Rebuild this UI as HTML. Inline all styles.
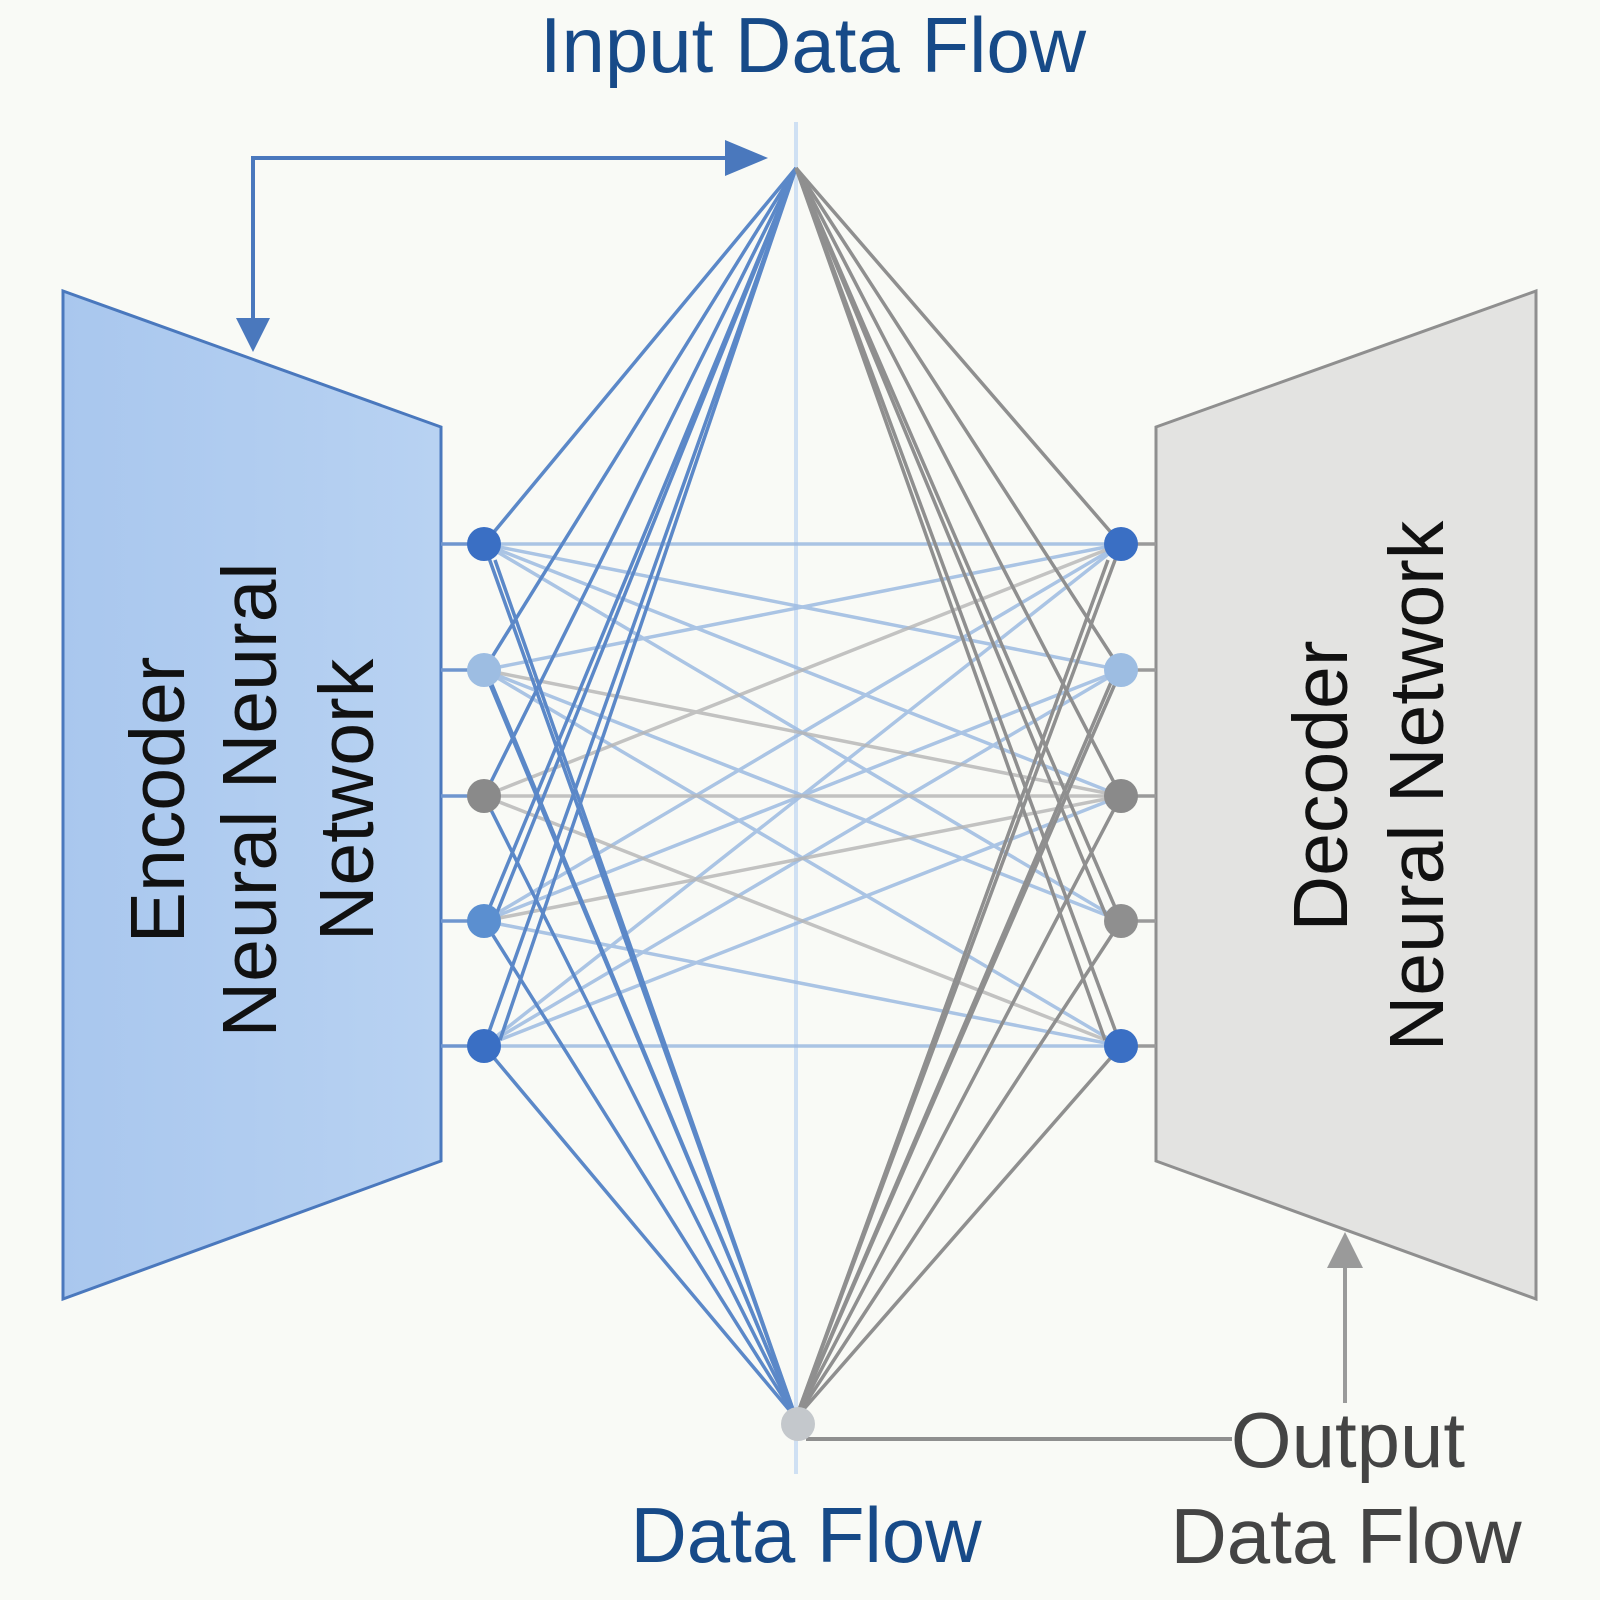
<!DOCTYPE html>
<html><head><meta charset="utf-8"><style>
html,body{margin:0;padding:0;background:#f9faf6;}
svg{display:block}
</style></head><body>
<svg width="1600" height="1600" viewBox="0 0 1600 1600" xmlns="http://www.w3.org/2000/svg" font-family="Liberation Sans, Arial, sans-serif">
<rect width="1600" height="1600" fill="#f9faf6"/>
<defs>
<linearGradient id="enc" x1="0" y1="0" x2="1" y2="0"><stop offset="0" stop-color="#a9c7ee"/><stop offset="1" stop-color="#b8d2f2"/></linearGradient>
</defs>
<polygon points="63,291 441,427 441,1161 63,1299" fill="url(#enc)" stroke="#4a78bd" stroke-width="3"/>
<polygon points="1156,427 1536,291 1536,1299 1156,1161" fill="#e3e3e1" stroke="#8f8f8f" stroke-width="3"/>
<line x1="796" y1="122" x2="796" y2="1474" stroke="#cfe0f3" stroke-width="4"/>
<g stroke-width="3.5" fill="none">
<g stroke="#6f96cf"><line x1="441" y1="544" x2="484" y2="544"/><line x1="441" y1="670" x2="484" y2="670"/><line x1="441" y1="796" x2="484" y2="796"/><line x1="441" y1="921" x2="484" y2="921"/><line x1="441" y1="1046" x2="484" y2="1046"/></g>
<g stroke="#9a9a9a"><line x1="1121" y1="544" x2="1156" y2="544"/><line x1="1121" y1="670" x2="1156" y2="670"/><line x1="1121" y1="796" x2="1156" y2="796"/><line x1="1121" y1="921" x2="1156" y2="921"/><line x1="1121" y1="1046" x2="1156" y2="1046"/></g>
<g stroke="#9dbbe2" opacity="0.85">
<line x1="484" y1="544" x2="1121" y2="544"/><line x1="484" y1="544" x2="1121" y2="796"/><line x1="484" y1="544" x2="1121" y2="921"/><line x1="484" y1="544" x2="1121" y2="670"/>
<line x1="484" y1="670" x2="1121" y2="921"/><line x1="484" y1="670" x2="1121" y2="1046"/><line x1="484" y1="670" x2="1121" y2="544"/>
<line x1="484" y1="921" x2="1121" y2="544"/><line x1="484" y1="921" x2="1121" y2="670"/><line x1="484" y1="921" x2="1121" y2="1046"/>
<line x1="484" y1="1046" x2="1121" y2="1046"/><line x1="484" y1="1046" x2="1121" y2="544"/><line x1="484" y1="1046" x2="1121" y2="670"/><line x1="484" y1="1046" x2="1121" y2="796"/>
</g>
<g stroke="#b5b5b5" opacity="0.8">
<line x1="484" y1="796" x2="1121" y2="796"/><line x1="484" y1="796" x2="1121" y2="544"/><line x1="484" y1="796" x2="1121" y2="1046"/><line x1="484" y1="670" x2="1121" y2="796"/><line x1="484" y1="921" x2="1121" y2="796"/>
</g>
<g stroke="#5b88c8">
<line x1="796" y1="168" x2="484" y2="544"/><line x1="796" y1="168" x2="484" y2="670"/><line x1="796" y1="168" x2="484" y2="796"/><line x1="796" y1="168" x2="484" y2="921"/><line x1="796" y1="168" x2="484" y2="1046"/>
<line x1="796" y1="168" x2="500" y2="1040"/><line x1="796" y1="168" x2="490" y2="930"/>
</g>
<g stroke="#8f8f8f">
<line x1="796" y1="168" x2="1121" y2="544"/><line x1="796" y1="168" x2="1121" y2="670"/><line x1="796" y1="168" x2="1121" y2="796"/><line x1="796" y1="168" x2="1121" y2="921"/><line x1="796" y1="168" x2="1121" y2="1046"/>
<line x1="796" y1="168" x2="1105" y2="1040"/><line x1="796" y1="168" x2="1112" y2="930"/>
</g>
<g stroke="#5b88c8">
<line x1="796" y1="1418" x2="484" y2="544"/><line x1="796" y1="1418" x2="484" y2="670"/><line x1="796" y1="1418" x2="484" y2="796"/><line x1="796" y1="1418" x2="484" y2="921"/><line x1="796" y1="1418" x2="484" y2="1046"/>
<line x1="796" y1="1418" x2="495" y2="560"/><line x1="796" y1="1418" x2="490" y2="680"/>
</g>
<g stroke="#8f8f8f">
<line x1="796" y1="1418" x2="1121" y2="544"/><line x1="796" y1="1418" x2="1121" y2="670"/><line x1="796" y1="1418" x2="1121" y2="796"/><line x1="796" y1="1418" x2="1121" y2="921"/><line x1="796" y1="1418" x2="1121" y2="1046"/>
<line x1="796" y1="1418" x2="1108" y2="560"/><line x1="796" y1="1418" x2="1112" y2="680"/>
</g>
<polyline points="253,330 253,158 745,158" stroke="#4a78bd" stroke-width="4"/>
<polyline points="806,1439 1232,1439" stroke="#8f8f8f" stroke-width="4"/>
<line x1="1345" y1="1403" x2="1345" y2="1262" stroke="#9a9a9a" stroke-width="4"/>
</g>
<polygon points="725,140 768,158 725,176" fill="#4a78bd"/>
<polygon points="236,318 270,318 253,352" fill="#4a78bd"/>
<polygon points="1327,1268 1363,1268 1345,1232" fill="#9a9a9a"/>
<circle cx="484" cy="544" r="17" fill="#3a6fc4"/><circle cx="484" cy="670" r="17" fill="#9dbde2"/><circle cx="484" cy="796" r="17" fill="#8a8a8a"/><circle cx="484" cy="921" r="17" fill="#5b8fd0"/><circle cx="484" cy="1046" r="17" fill="#3a6fc4"/>
<circle cx="1121" cy="544" r="17" fill="#3a6fc4"/><circle cx="1121" cy="670" r="17" fill="#9dbde2"/><circle cx="1121" cy="796" r="17" fill="#8a8a8a"/><circle cx="1121" cy="921" r="17" fill="#8f8f8f"/><circle cx="1121" cy="1046" r="17" fill="#3a6fc4"/>
<circle cx="798" cy="1424" r="17" fill="#c4c8cc"/>
<text x="813" y="72" font-size="78" fill="#174a88" text-anchor="middle">Input Data Flow</text>
<text x="806" y="1562" font-size="78" fill="#174a88" text-anchor="middle">Data Flow</text>
<text x="1348" y="1467" font-size="78" fill="#444" text-anchor="middle">Output</text>
<text x="1346" y="1563" font-size="78" fill="#444" text-anchor="middle">Data Flow</text>
<g font-size="77" fill="#111" text-anchor="middle">
<text transform="translate(184,800) rotate(-90)">Encoder</text>
<text transform="translate(276,800) rotate(-90)">Neural Neural</text>
<text transform="translate(373,800) rotate(-90)">Network</text>
<text transform="translate(1347,786) rotate(-90)">Decoder</text>
<text transform="translate(1443,786) rotate(-90)">Neural Network</text>
</g>
</svg>
</body></html>
